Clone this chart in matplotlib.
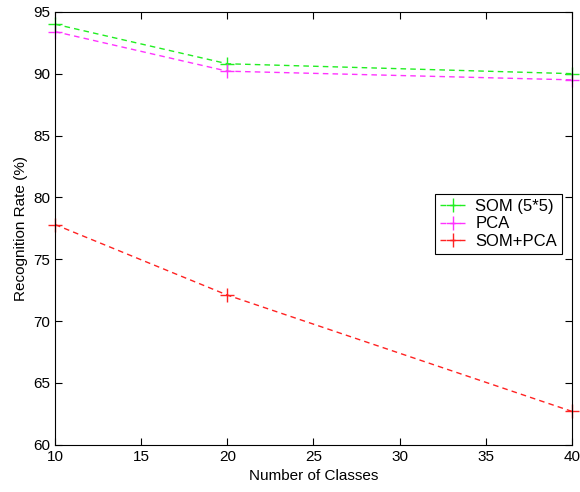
import matplotlib.pyplot as plt

plt.rcParams['font.family'] = ['Liberation Sans', 'DejaVu Sans']

classes = [10, 20, 40]
som = [94.0, 90.8, 90.0]
pca = [93.4, 90.2, 89.5]
som_pca = [77.8, 72.1, 62.7]

fig = plt.figure(figsize=(5.8, 4.92), dpi=100)
ax = fig.add_axes([0.095, 0.096, 0.891, 0.88])

style = dict(ls='--', marker='+', lw=1, ms=10, mew=1, dashes=(4, 3), clip_on=False)
ax.plot(classes, som, color='#22ee22', label='SOM (5*5)', **style)
ax.plot(classes, pca, color='#ff33ff', label='PCA', **style)
ax.plot(classes, som_pca, color='#ff2222', label='SOM+PCA', **style)

ax.set_xlim(10, 40)
ax.set_ylim(60, 95)
ax.set_xticks(range(10, 41, 5))
ax.set_yticks(range(60, 96, 5))
ax.tick_params(direction='in', top=True, right=True, labelsize=11, length=5)
ax.set_xlabel('Number of Classes', fontsize=11)
ax.set_ylabel('Recognition Rate (%)', fontsize=11)

leg = ax.legend(loc='center right', bbox_to_anchor=(0.997, 0.51), fontsize=12,
                fancybox=False, edgecolor='black', framealpha=1, numpoints=1,
                handlelength=1.5, handletextpad=0.6, borderpad=0.3, labelspacing=0.15)
leg.get_frame().set_linewidth(0.8)

fig.savefig('out.png', dpi=100)
